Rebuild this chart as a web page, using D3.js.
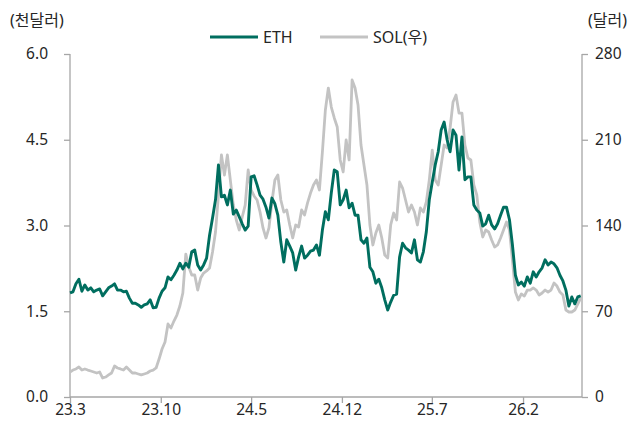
<!DOCTYPE html>
<html lang="ko">
<head>
  <meta charset="UTF-8">
  <title>ETH vs SOL</title>
  <script src="https://d3js.org/d3.v7.min.js"></script>
  <style>
    body { margin: 0; background: #fff; }
    text { font-family: "Noto Sans", "Noto Sans CJK KR", sans-serif; fill: #262626; }
  </style>
</head>
<body>
  <svg width="630" height="425" id="chart"></svg>

  <script>
    // weekly closes, from 2023-03-01
    const startDate = new Date(2023, 2, 1);
    // ETH (천달러)
    const ethValues = [
      1.82, 1.84, 1.98, 2.06, 1.85, 1.96, 1.87, 1.91, 1.84, 1.87,
      1.89, 1.77, 1.84, 1.91, 1.94, 1.98, 1.87, 1.87, 1.84, 1.85,
      1.73, 1.64, 1.64, 1.61, 1.57, 1.61, 1.63, 1.70, 1.56, 1.57,
      1.73, 1.85, 1.91, 2.10, 2.05, 2.13, 2.22, 2.34, 2.24, 2.34,
      2.27, 2.54, 2.57, 2.31, 2.22, 2.31, 2.43, 2.83, 3.13, 3.45,
      4.06, 3.50, 3.53, 3.36, 3.62, 3.20, 3.27, 3.15, 3.03, 2.92,
      2.99, 3.85, 3.87, 3.71, 3.53, 3.46, 3.32, 3.13, 3.48, 3.38,
      3.18, 2.71, 2.36, 2.75, 2.64, 2.52, 2.22, 2.45, 2.64, 2.43,
      2.48, 2.55, 2.57, 2.66, 2.48, 2.92, 3.24, 3.10, 3.57, 3.97,
      3.94, 3.36, 3.45, 3.62, 3.31, 3.39, 3.18, 3.18, 2.75, 2.69,
      2.78, 2.27, 2.19, 1.99, 2.06, 1.91, 1.70, 1.52, 1.66, 1.78,
      1.80, 2.45, 2.69, 2.61, 2.57, 2.52, 2.75, 2.40, 2.36, 2.54,
      2.89, 3.45, 3.76, 4.06, 4.29, 4.67, 4.81, 4.50, 4.29, 4.67,
      4.58, 3.97, 4.55, 3.80, 3.85, 3.85, 3.36, 3.27, 3.22, 2.99,
      3.03, 3.18, 3.01, 2.94, 3.03, 3.18, 3.32, 3.32, 3.10, 2.66,
      2.13, 1.96, 2.01, 1.94, 2.10, 1.99, 2.19, 2.10, 2.19, 2.26,
      2.40, 2.31, 2.36, 2.33, 2.26, 2.13, 2.03, 1.87, 1.59, 1.75,
      1.63, 1.75, 1.77
    ];
    // SOL (달러, 우축)
    const solValues = [
      20.4, 22.0, 22.9, 24.5, 22.0, 22.9, 22.0, 21.2, 20.4, 19.6,
      20.4, 15.5, 16.3, 18.0, 19.6, 25.3, 23.7, 22.9, 22.0, 24.5,
      22.0, 19.6, 19.6, 18.8, 18.0, 18.8, 19.6, 21.2, 22.0, 23.7,
      31.0, 39.2, 44.9, 59.6, 56.3, 62.0, 66.9, 74.3, 84.9, 116.7,
      106.1, 99.6, 99.6, 87.3, 97.1, 101.2, 102.9, 105.3, 118.4, 134.7,
      164.9, 197.6, 181.2, 197.6, 177.1, 156.7, 144.5, 136.3, 146.9, 156.7,
      185.3, 169.0, 164.1, 160.8, 151.0, 138.0, 129.8, 138.0, 159.2, 177.1,
      181.2, 160.8, 151.0, 152.7, 140.4, 129.8, 140.4, 138.8, 152.7, 148.6,
      158.4, 166.5, 173.1, 177.1, 169.0, 200.0, 234.3, 252.2, 236.7, 227.8,
      220.4, 193.5, 183.7, 209.8, 193.5, 258.8, 252.2, 238.4, 205.7, 189.4,
      173.1, 140.4, 124.1, 133.9, 140.4, 129.8, 115.9, 113.5, 140.4, 150.2,
      144.5, 175.5, 170.6, 160.8, 151.0, 156.7, 151.0, 140.4, 154.3, 151.0,
      159.2, 177.1, 201.6, 177.1, 173.1, 189.4, 205.7, 203.3, 219.6, 240.8,
      246.5, 231.8, 231.8, 205.7, 195.1, 193.5, 173.1, 164.9, 142.9, 130.6,
      136.3, 134.7, 128.2, 122.4, 124.1, 129.8, 136.3, 142.9, 136.3, 111.8,
      85.7, 79.2, 84.1, 82.4, 87.3, 87.3, 89.0, 87.3, 83.3, 84.9,
      87.3, 85.7, 87.3, 93.1, 90.6, 85.7, 83.3, 71.0, 69.4, 69.4,
      71.0, 75.9, 80.8
    ];
    const xTickDates = ['2023-03-01', '2023-10-01', '2024-05-01', '2024-12-01', '2025-07-01', '2026-02-01'];
    const xTickLabels = ['23.3', '23.10', '24.5', '24.12', '25.7', '26.2'];
    const leftTicks = [0, 1.5, 3.0, 4.5, 6.0];
    const rightTicks = [0, 70, 140, 210, 280];

    const svg = d3.select('#chart');
    const margin = { top: 54, right: 48, bottom: 28, left: 70 };
    const width = +svg.attr('width');
    const height = +svg.attr('height');
    const innerWidth = width - margin.left - margin.right;
    const innerHeight = height - margin.top - margin.bottom;

    const parse = d3.timeParse('%Y-%m-%d');
    const dates = ethValues.map((_, i) => d3.timeDay.offset(startDate, i * 7));

    const xScale = d3.scaleTime()
      .domain([startDate, new Date(2026, 5, 20)])
      .range([0, innerWidth]);
    const yLeft = d3.scaleLinear().domain([0, 6]).range([innerHeight, 0]);
    const yRight = d3.scaleLinear().domain([0, 280]).range([innerHeight, 0]);

    const g = svg.append('g')
      .attr('transform', `translate(${margin.left}, ${margin.top})`);

    // 축
    const axisColor = '#a6a6a6';
    const leftAxis = d3.axisLeft(yLeft).tickValues(leftTicks)
      .tickFormat(d3.format('.1f')).tickSize(6).tickPadding(16);
    const rightAxis = d3.axisRight(yRight).tickValues(rightTicks)
      .tickSize(6).tickPadding(7);
    const bottomAxis = d3.axisBottom(xScale)
      .tickValues(xTickDates.map(parse))
      .tickFormat((d, i) => xTickLabels[i]).tickSize(6).tickPadding(1);

    const gl = g.append('g').call(leftAxis);
    const gr = g.append('g').attr('transform', `translate(${innerWidth}, 0)`).call(rightAxis);
    const gb = g.append('g').attr('transform', `translate(0, ${innerHeight})`).call(bottomAxis);

    [gl, gr, gb].forEach(ax => {
      ax.select('.domain').attr('stroke', axisColor).attr('stroke-width', 1.3);
      ax.selectAll('.tick line').attr('stroke', axisColor).attr('stroke-width', 1.3);
      ax.selectAll('.tick text').attr('font-size', 15.5).attr('fill', '#262626')
        .style('font-family', '"Noto Sans", "Noto Sans CJK KR", sans-serif');
    });
    gl.select('.domain').attr('d', `M0,${innerHeight}V0`);
    gr.select('.domain').attr('d', `M0,${innerHeight}V0`);
    gb.select('.domain').attr('d', `M0,0H${innerWidth}`);

    // 데이터 라인
    const solLine = d3.line()
      .x((d, i) => xScale(dates[i]))
      .y(d => yRight(d));
    const ethLine = d3.line()
      .x((d, i) => xScale(dates[i]))
      .y(d => yLeft(d));

    g.append('path').datum(solValues)
      .attr('d', solLine)
      .attr('fill', 'none')
      .attr('stroke', '#c3c3c3')
      .attr('stroke-width', 2.8)
      .attr('stroke-linejoin', 'round');

    g.append('path').datum(ethValues)
      .attr('d', ethLine)
      .attr('fill', 'none')
      .attr('stroke', '#006e5f')
      .attr('stroke-width', 2.9)
      .attr('stroke-linejoin', 'round');

    // 단위
    svg.append('text').text('(천달러)')
      .attr('x', 10).attr('y', 26).attr('font-size', 16);
    svg.append('text').text('(달러)')
      .attr('x', 627).attr('y', 26).attr('font-size', 16)
      .attr('text-anchor', 'end');

    // 범례
    const legend = [
      { name: 'ETH', color: '#006e5f', x: 210 },
      { name: 'SOL(우)', color: '#c3c3c3', x: 320 }
    ];
    legend.forEach(d => {
      svg.append('line')
        .attr('x1', d.x).attr('x2', d.x + 48)
        .attr('y1', 37).attr('y2', 37)
        .attr('stroke', d.color).attr('stroke-width', 2.8);
      svg.append('text').text(d.name)
        .attr('x', d.x + 53).attr('y', 43)
        .attr('font-size', 16);
    });
  </script>
</body>
</html>
